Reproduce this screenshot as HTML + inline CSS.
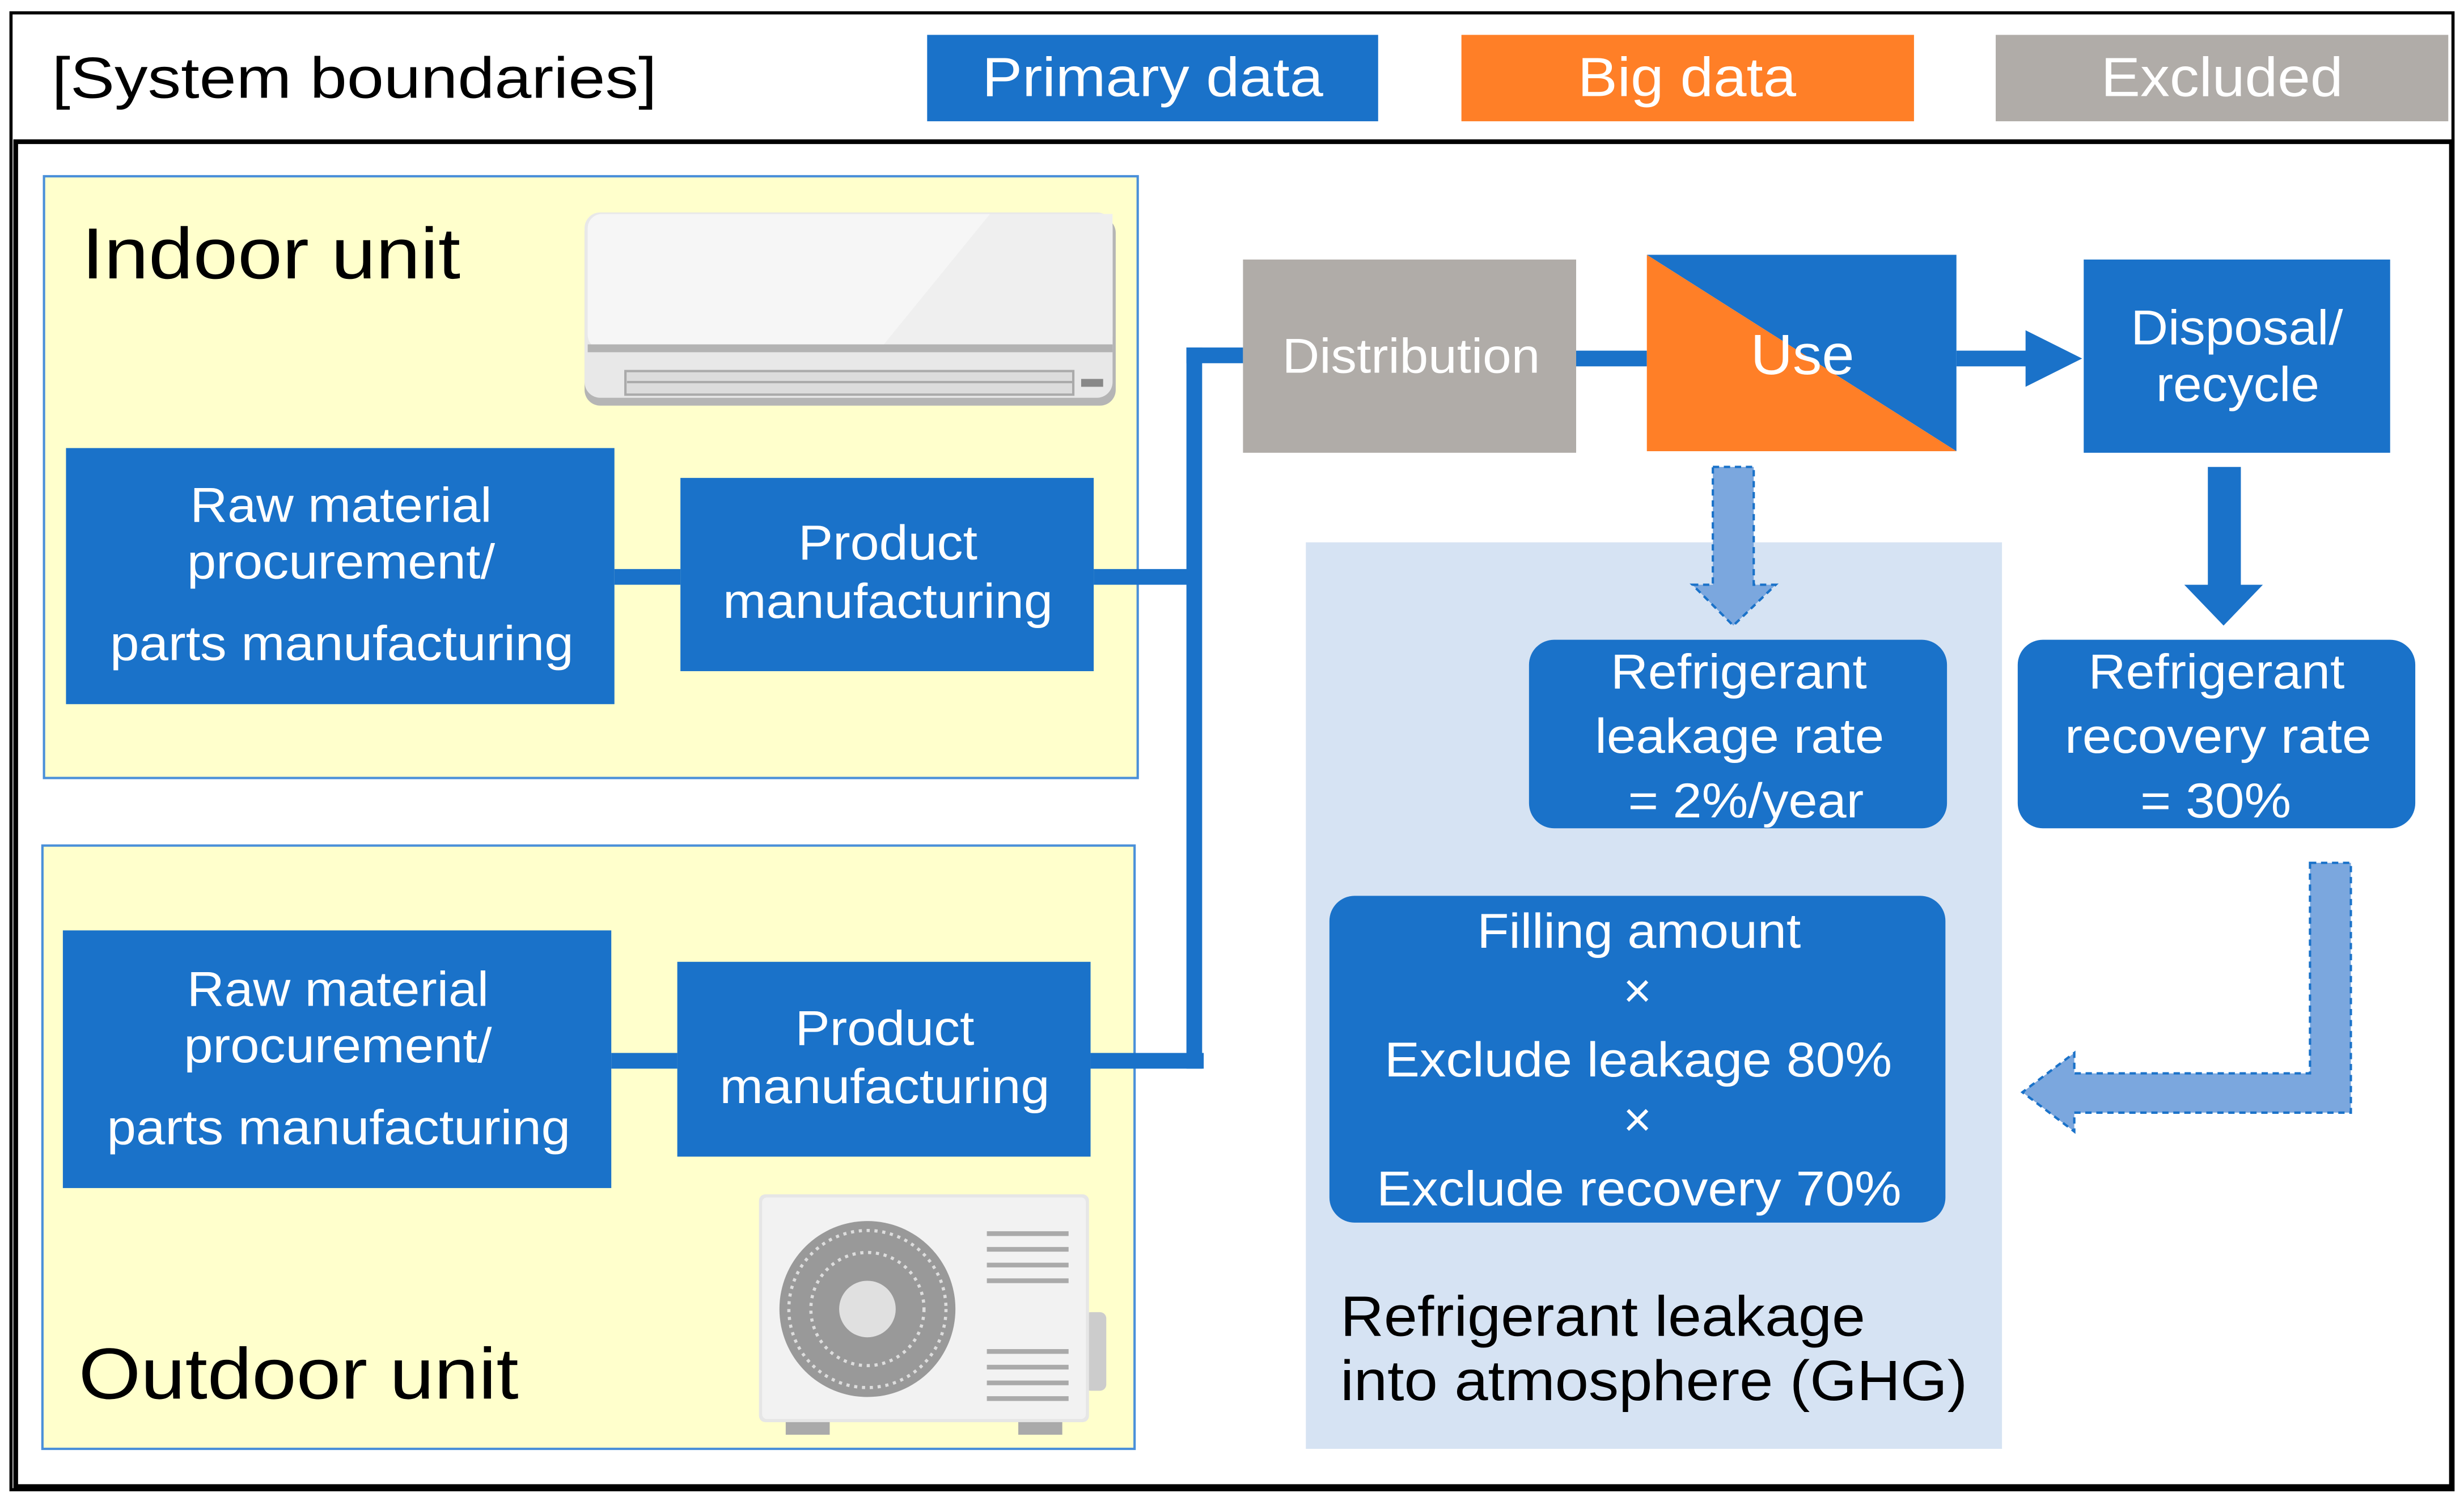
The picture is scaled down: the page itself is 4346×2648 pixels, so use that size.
<!DOCTYPE html>
<html><head><meta charset="utf-8"><style>html,body{margin:0;padding:0;background:#fff}svg{display:block}text{font-family:"Liberation Sans",Arial,sans-serif}</style></head>
<body>
<svg width="4346" height="2648" viewBox="0 0 1568 955" xmlns="http://www.w3.org/2000/svg">
<rect x="0" y="0" width="1568" height="955" fill="#fff"/>
<rect x="7" y="8" width="1554" height="940" fill="none" stroke="#000" stroke-width="2"/>
<rect x="10" y="90" width="1550" height="856" fill="none" stroke="#000" stroke-width="3"/>
<text x="33" y="62" font-size="37" fill="#000" textLength="385" lengthAdjust="spacingAndGlyphs">[System boundaries]</text>
<rect x="590" y="22" width="287" height="55" fill="#1A72C9"/>
<text x="625" y="61" font-size="35" fill="#fff" textLength="217" lengthAdjust="spacingAndGlyphs">Primary data</text>
<rect x="930" y="22" width="288" height="55" fill="#FF7F27"/>
<text x="1004" y="61" font-size="35" fill="#fff" textLength="139" lengthAdjust="spacingAndGlyphs">Big data</text>
<rect x="1270" y="22" width="288" height="55" fill="#B0ACA8"/>
<text x="1337" y="61" font-size="35" fill="#fff" textLength="154" lengthAdjust="spacingAndGlyphs">Excluded</text>

<!-- Indoor -->
<rect x="28" y="112" width="696" height="383" fill="#FFFFCC" stroke="#4A90D9" stroke-width="1.5"/>
<text x="52" y="177" font-size="46" fill="#000" textLength="241" lengthAdjust="spacingAndGlyphs">Indoor unit</text>
<rect x="372" y="138" width="338" height="120" rx="10" fill="#B5B5B5"/>
<rect x="372" y="135" width="336" height="118" rx="10" fill="#E8E8E8"/>
<rect x="374" y="136" width="334" height="86" rx="9" fill="#F6F6F6"/>
<polygon points="630,136 708,136 708,222 560,222" fill="#EFEFEF"/>
<rect x="374" y="219" width="334" height="5" fill="#B3B3B3"/>
<rect x="398" y="236" width="285" height="15" fill="#DCDCDC" stroke="#AAA" stroke-width="1.5"/>
<line x1="399" y1="243" x2="683" y2="243" stroke="#AAA" stroke-width="1.5"/>
<rect x="688" y="241" width="14" height="5" fill="#888"/>

<rect x="42" y="285" width="349" height="163" fill="#1A72C9"/>
<g font-size="31" fill="#fff">
<text x="121" y="332" textLength="192" lengthAdjust="spacingAndGlyphs">Raw material</text>
<text x="119" y="368" textLength="196" lengthAdjust="spacingAndGlyphs">procurement/</text>
<text x="70" y="420" textLength="295" lengthAdjust="spacingAndGlyphs">parts manufacturing</text>
</g>
<rect x="433" y="304" width="263" height="123" fill="#1A72C9"/>
<g font-size="31" fill="#fff">
<text x="508" y="356" textLength="114" lengthAdjust="spacingAndGlyphs">Product</text>
<text x="460" y="393" textLength="210" lengthAdjust="spacingAndGlyphs">manufacturing</text>
</g>

<!-- Outdoor -->
<rect x="27" y="538" width="695" height="384" fill="#FFFFCC" stroke="#4A90D9" stroke-width="1.5"/>
<text x="50" y="890" font-size="46" fill="#000" textLength="280" lengthAdjust="spacingAndGlyphs">Outdoor unit</text>
<rect x="500" y="900" width="28" height="13" fill="#AAA"/>
<rect x="648" y="900" width="28" height="13" fill="#AAA"/>
<rect x="690" y="835" width="14" height="50" rx="4" fill="#CCC"/>
<rect x="483" y="760" width="210" height="145" rx="4" fill="#E6E6E6"/>
<rect x="485" y="762" width="206" height="141" rx="3" fill="#F2F2F2"/>
<circle cx="552" cy="833" r="56" fill="#999"/>
<circle cx="552" cy="833" r="50" fill="none" stroke="#DDD" stroke-width="2" stroke-dasharray="2 3"/>
<circle cx="552" cy="833" r="36" fill="none" stroke="#DDD" stroke-width="2" stroke-dasharray="2 3"/>
<circle cx="552" cy="833" r="18" fill="#E0E0E0"/>
<g stroke="#AAA" stroke-width="3"><line x1="628" y1="785" x2="680" y2="785"/><line x1="628" y1="795" x2="680" y2="795"/><line x1="628" y1="805" x2="680" y2="805"/><line x1="628" y1="815" x2="680" y2="815"/><line x1="628" y1="860" x2="680" y2="860"/><line x1="628" y1="870" x2="680" y2="870"/><line x1="628" y1="880" x2="680" y2="880"/><line x1="628" y1="890" x2="680" y2="890"/></g>

<rect x="40" y="592" width="349" height="164" fill="#1A72C9"/>
<g font-size="31" fill="#fff">
<text x="119" y="640" textLength="192" lengthAdjust="spacingAndGlyphs">Raw material</text>
<text x="117" y="676" textLength="196" lengthAdjust="spacingAndGlyphs">procurement/</text>
<text x="68" y="728" textLength="295" lengthAdjust="spacingAndGlyphs">parts manufacturing</text>
</g>
<rect x="431" y="612" width="263" height="124" fill="#1A72C9"/>
<g font-size="31" fill="#fff">
<text x="506" y="665" textLength="114" lengthAdjust="spacingAndGlyphs">Product</text>
<text x="458" y="702" textLength="210" lengthAdjust="spacingAndGlyphs">manufacturing</text>
</g>

<!-- connectors -->
<g fill="#1A72C9">
<rect x="391" y="362" width="42" height="10"/>
<rect x="389" y="670" width="42" height="10"/>
<rect x="696" y="362" width="64" height="10"/>
<rect x="694" y="670" width="72" height="10"/>
<rect x="755" y="221" width="10" height="459"/>
<rect x="755" y="221" width="36" height="10"/>
<rect x="1003" y="223" width="45" height="10"/>
<rect x="1245" y="223" width="48" height="10"/>
<polygon points="1289,210 1325,228 1289,246"/>
</g>

<rect x="791" y="165" width="212" height="123" fill="#B0ACA8"/>
<text x="816" y="237" font-size="31" fill="#fff" textLength="164" lengthAdjust="spacingAndGlyphs">Distribution</text>
<polygon points="1048,162 1245,162 1245,287" fill="#1A72C9"/>
<polygon points="1048,162 1245,287 1048,287" fill="#FF7F27"/>
<text x="1114" y="238" font-size="36" fill="#fff" textLength="66" lengthAdjust="spacingAndGlyphs">Use</text>
<rect x="1326" y="165" width="195" height="123" fill="#1A72C9"/>
<g font-size="31" fill="#fff">
<text x="1356" y="219" textLength="135" lengthAdjust="spacingAndGlyphs">Disposal/</text>
<text x="1372" y="255" textLength="104" lengthAdjust="spacingAndGlyphs">recycle</text>
</g>

<rect x="831" y="345" width="443" height="577" fill="#D6E3F3"/>
<polygon points="1090,297 1116,297 1116,372 1130,372 1103,398 1077,372 1090,372" fill="#7BA7DE" stroke="#1A72C9" stroke-width="1.5" stroke-dasharray="4 3"/>
<polygon points="1405,297 1426,297 1426,372 1440,372 1415,398 1390,372 1405,372" fill="#1A72C9"/>

<rect x="973" y="407" width="266" height="120" rx="16" fill="#1A72C9"/>
<g font-size="31" fill="#fff">
<text x="1025" y="438" textLength="163" lengthAdjust="spacingAndGlyphs">Refrigerant</text>
<text x="1015" y="479" textLength="184" lengthAdjust="spacingAndGlyphs">leakage rate</text>
<text x="1036" y="520" textLength="150" lengthAdjust="spacingAndGlyphs">= 2%/year</text>
</g>
<rect x="1284" y="407" width="253" height="120" rx="16" fill="#1A72C9"/>
<g font-size="31" fill="#fff">
<text x="1329" y="438" textLength="163" lengthAdjust="spacingAndGlyphs">Refrigerant</text>
<text x="1314" y="479" textLength="195" lengthAdjust="spacingAndGlyphs">recovery rate</text>
<text x="1362" y="520" textLength="96" lengthAdjust="spacingAndGlyphs">= 30%</text>
</g>

<rect x="846" y="570" width="392" height="208" rx="16" fill="#1A72C9"/>
<g font-size="31" fill="#fff">
<text x="940" y="603" textLength="206" lengthAdjust="spacingAndGlyphs">Filling amount</text>
<text x="1042" y="641" text-anchor="middle">×</text>
<text x="881" y="685" textLength="323" lengthAdjust="spacingAndGlyphs">Exclude leakage 80%</text>
<text x="1042" y="723" text-anchor="middle">×</text>
<text x="876" y="767" textLength="334" lengthAdjust="spacingAndGlyphs">Exclude recovery 70%</text>
</g>

<polygon points="1470,549 1496,549 1496,708 1320,708 1320,720 1287,695 1320,670 1320,683 1470,683" fill="#7BA7DE" stroke="#1A72C9" stroke-width="1.5" stroke-dasharray="4 3"/>

<g font-size="36" fill="#000">
<text x="853" y="850" textLength="334" lengthAdjust="spacingAndGlyphs">Refrigerant leakage</text>
<text x="853" y="891" textLength="399" lengthAdjust="spacingAndGlyphs">into atmosphere (GHG)</text>
</g>
</svg>
</body></html>
